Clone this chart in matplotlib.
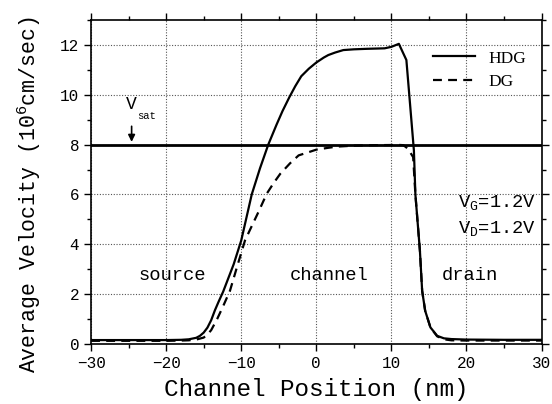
import matplotlib
matplotlib.use('Agg')
import matplotlib.pyplot as plt
from matplotlib.ticker import MultipleLocator

# velocity profiles along the channel (nm, 1e6 cm/s)
pos_hdg = [-30, -25, -20, -18, -17, -16, -15.5, -15, -14.5, -14, -13.5, -13, -12.4,
           -11, -10, -8.6, -7.5, -6.4, -5.3, -4.5, -3.6, -2.8, -2, -1, 0, 1, 1.6,
           2.5, 3.6, 5, 6.7, 9.1, 10, 11, 12, 13, 13.2, 13.8, 14.1, 14.5, 15.2,
           16.1, 17, 18, 20, 25, 30]
vel_hdg = [0.15, 0.15, 0.15, 0.16, 0.18, 0.24, 0.32, 0.45, 0.65, 0.95, 1.35, 1.7, 2.1,
           3.2, 4.15, 6.0, 7.05, 8.0, 8.8, 9.35, 9.9, 10.35, 10.75, 11.05, 11.3, 11.5, 11.6,
           11.7, 11.8, 11.83, 11.85, 11.87, 11.93, 12.05, 11.4, 7.77, 6.0, 3.75, 2.13, 1.33, 0.66,
           0.32, 0.22, 0.19, 0.17, 0.16, 0.16]

pos_dg = [-30, -25, -20, -18, -17, -16, -15, -14.5, -14, -13.2, -12.5, -11.5, -10.5, -9.5,
          -8.8, -7.7, -6.6, -5.7, -4.8, -3.5, -2.35, -1, 0, 1.5, 2.7, 5, 8, 11, 11.6,
          12.2, 12.9, 13.2, 13.8, 14.1, 14.5, 15.2, 16.1, 17, 18, 20, 25, 30]
vel_dg = [0.12, 0.12, 0.12, 0.13, 0.14, 0.17, 0.25, 0.37, 0.55, 1.0, 1.45, 2.13, 3.15, 4.15,
          4.6, 5.3, 6.03, 6.45, 6.83, 7.25, 7.57, 7.7, 7.8, 7.87, 7.92, 7.96, 7.98, 7.99, 7.98,
          7.84, 7.5, 6.0, 3.75, 2.13, 1.33, 0.66, 0.3, 0.18, 0.14, 0.13, 0.13, 0.13]

v_sat = 8.0

mono = 'Liberation Mono'

fig = plt.figure(figsize=(5.52, 4.04), dpi=100)
ax = fig.add_axes([0.165, 0.149, 0.816, 0.801])

ax.axhline(v_sat, color='black', lw=2.0, zorder=3)
ax.plot(pos_hdg, vel_hdg, color='black', lw=1.6, label='HDG', zorder=4)
ax.plot(pos_dg, vel_dg, color='black', lw=1.6, ls=(0, (4, 2.8)), label='DG', zorder=4)

ax.set_xlim(-30, 30)
ax.set_ylim(0, 13)
ax.xaxis.set_major_locator(MultipleLocator(10))
ax.xaxis.set_minor_locator(MultipleLocator(5))
ax.yaxis.set_major_locator(MultipleLocator(2))
ax.yaxis.set_minor_locator(MultipleLocator(1))
ax.grid(True, which='major', color='#555555', ls=(0, (1, 1.5)), lw=0.8)
ax.tick_params(which='both', direction='out', top=True, right=True,
               labeltop=False, labelright=False, width=1, colors='black')
ax.tick_params(which='major', length=5, labelsize=11.5)
ax.tick_params(which='minor', length=3)
for lab in ax.get_xticklabels() + ax.get_yticklabels():
    lab.set_fontfamily(mono)
for sp in ax.spines.values():
    sp.set_linewidth(1.2)

ax.set_xlabel('Channel Position (nm)', fontfamily=mono, fontsize=17.5, labelpad=5)
ax.set_ylabel(r'Average Velocity (10$^{\mathregular{6}}$cm/sec)', fontfamily=mono,
              fontsize=15.5)
ax.yaxis.set_label_coords(-0.107, 0.46)

# V_sat marker
ax.annotate('', xy=(-24.6, v_sat), xytext=(-24.6, 8.85),
            arrowprops=dict(arrowstyle='-|>', color='black', lw=1.2, mutation_scale=10))
ax.text(-25.3, 9.6, 'V', fontfamily=mono, fontsize=13, va='center')
ax.text(-23.9, 9.15, 'sat', fontfamily=mono, fontsize=7.5, va='center')

# region labels
ax.text(-19.2, 2.75, 'source', fontfamily=mono, fontsize=13.5, ha='center', va='center')
ax.text(1.7, 2.75, 'channel', fontfamily=mono, fontsize=13.5, ha='center', va='center')
ax.text(20.4, 2.75, 'drain', fontfamily=mono, fontsize=13.5, ha='center', va='center')

# bias conditions
ax.text(29.3, 5.66, r'V$_{\mathregular{G}}$=1.2V', fontfamily=mono, fontsize=13.5,
        ha='right', va='center')
ax.text(29.3, 4.6, r'V$_{\mathregular{D}}$=1.2V', fontfamily=mono, fontsize=13.5,
        ha='right', va='center')

ax.legend(loc='upper right', bbox_to_anchor=(1.0, 0.955), frameon=False,
          prop={'family': 'Liberation Serif', 'size': 12.5}, handlelength=2.4,
          handletextpad=0.75, labelspacing=0.4)

fig.savefig('out.png', dpi=100)
